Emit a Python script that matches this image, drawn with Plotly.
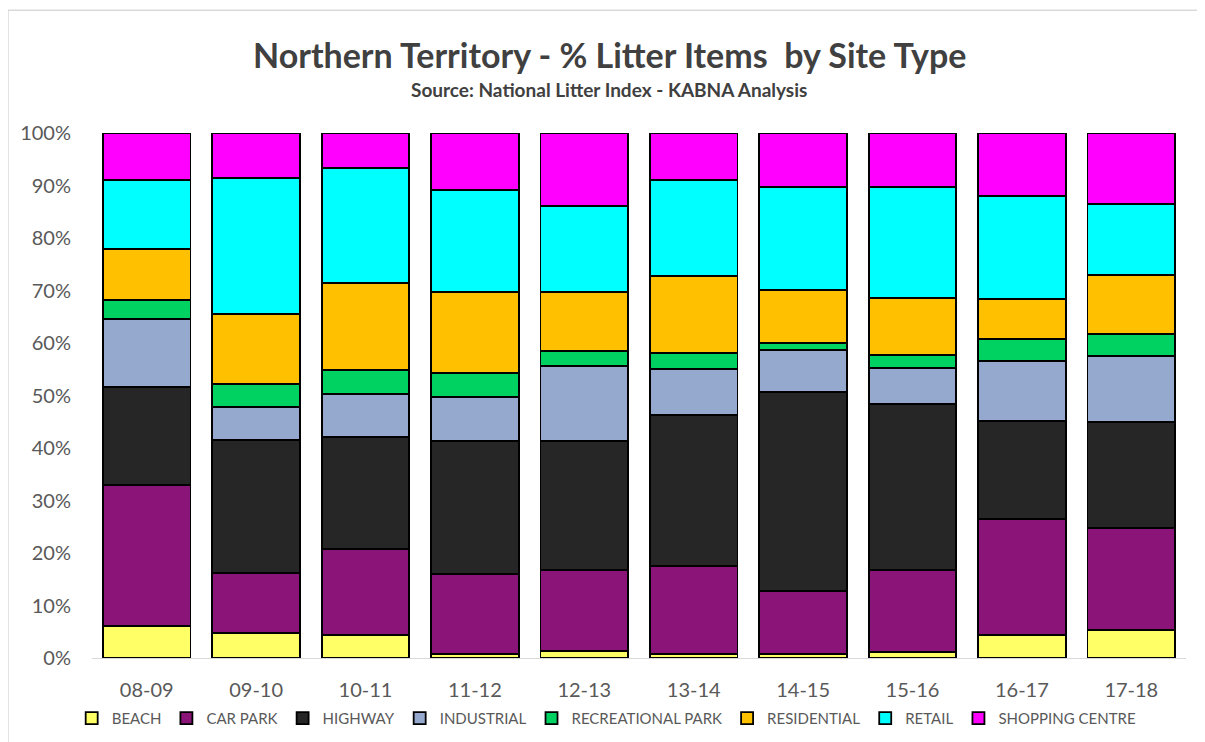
import plotly.graph_objects as go

categories = ["08-09", "09-10", "10-11", "11-12", "12-13", "13-14", "14-15", "15-16", "16-17", "17-18"]

beach = [6.1, 4.8, 4.4, 0.8, 1.3, 0.8, 0.8, 1.1, 4.4, 5.3]
car_park = [26.9, 11.4, 16.4, 15.2, 15.5, 16.7, 12.0, 15.7, 22.1, 19.5]
highway = [18.6, 25.3, 21.3, 25.3, 24.5, 28.8, 37.9, 31.6, 18.6, 20.2]
industrial = [13.0, 6.3, 8.2, 8.4, 14.3, 8.7, 8.0, 6.8, 11.5, 12.5]
recreational_park = [3.6, 4.4, 4.6, 4.6, 2.9, 3.1, 1.3, 2.5, 4.2, 4.2]
residential = [9.7, 13.3, 16.5, 15.4, 11.2, 14.7, 10.1, 10.9, 7.6, 11.3]
retail = [13.1, 25.9, 21.9, 19.4, 16.4, 18.2, 19.6, 21.1, 19.6, 13.5]
shopping_centre = [9.0, 8.6, 6.7, 10.9, 13.9, 9.0, 10.3, 10.3, 12.0, 13.5]

series = [
    ("BEACH", beach, "#FFFF66"),
    ("CAR PARK", car_park, "#8B1478"),
    ("HIGHWAY", highway, "#262626"),
    ("INDUSTRIAL", industrial, "#95A9CF"),
    ("RECREATIONAL PARK", recreational_park, "#00D262"),
    ("RESIDENTIAL", residential, "#FFC000"),
    ("RETAIL", retail, "#00FFFF"),
    ("SHOPPING CENTRE", shopping_centre, "#FF00FF"),
]

fig = go.Figure()
for name, vals, col in series:
    fig.add_trace(go.Bar(
        x=categories, y=vals, name=name,
        marker=dict(color=col, line=dict(color="#000000", width=1.8)),
    ))

FONT = "Lato, Liberation Sans, sans-serif"

# page body has an 8px margin; figure sized/margined to compensate
fig.update_layout(
    barmode="stack",
    barnorm="percent",
    bargap=0.2,
    width=1197, height=734,
    margin=dict(l=84, r=19, t=125, b=84, autoexpand=False),
    paper_bgcolor="white",
    plot_bgcolor="white",
    font=dict(family=FONT, color="#595959"),
    showlegend=True,
    legend=dict(
        orientation="h", x=0.47, xanchor="center", y=-0.0836, yanchor="top",
        font=dict(size=15, color="#595959", family=FONT),
        itemwidth=30, traceorder="normal",
        tracegroupgap=0,
    ),
    xaxis=dict(
        type="category",
        showgrid=False, showline=True, linecolor="#D9D9D9", linewidth=1,
        ticks="", tickfont=dict(size=20, color="#595959"), ticklabelstandoff=14,
    ),
    yaxis=dict(
        range=[0, 100], tickvals=[0, 10, 20, 30, 40, 50, 60, 70, 80, 90, 100],
        ticktext=["0%", "10%", "20%", "30%", "40%", "50%", "60%", "70%", "80%", "90%", "100%"],
        showgrid=False, showline=False, zeroline=False, ticks="",
        tickfont=dict(size=20, color="#595959"), ticklabelstandoff=20,
    ),
    annotations=[
        dict(text="<b>Northern Territory - % Litter Items  by Site Type</b>",
             xref="paper", yref="paper", x=0.473, y=1.149, xanchor="center", yanchor="middle",
             showarrow=False, font=dict(size=34, color="#404040", family=FONT)),
        dict(text="<b>Source: National Litter Index - KABNA Analysis</b>",
             xref="paper", yref="paper", x=0.473, y=1.082, xanchor="center", yanchor="middle",
             showarrow=False, font=dict(size=19, color="#404040", family=FONT)),
    ],
    shapes=[
        dict(type="rect", xref="paper", yref="paper", x0=-0.0768, x1=1.2, y0=-0.3, y1=1.234,
             line=dict(color="#D9D9D9", width=1.5), fillcolor="rgba(0,0,0,0)", layer="below"),
    ],
)

fig.write_html("out.html")
